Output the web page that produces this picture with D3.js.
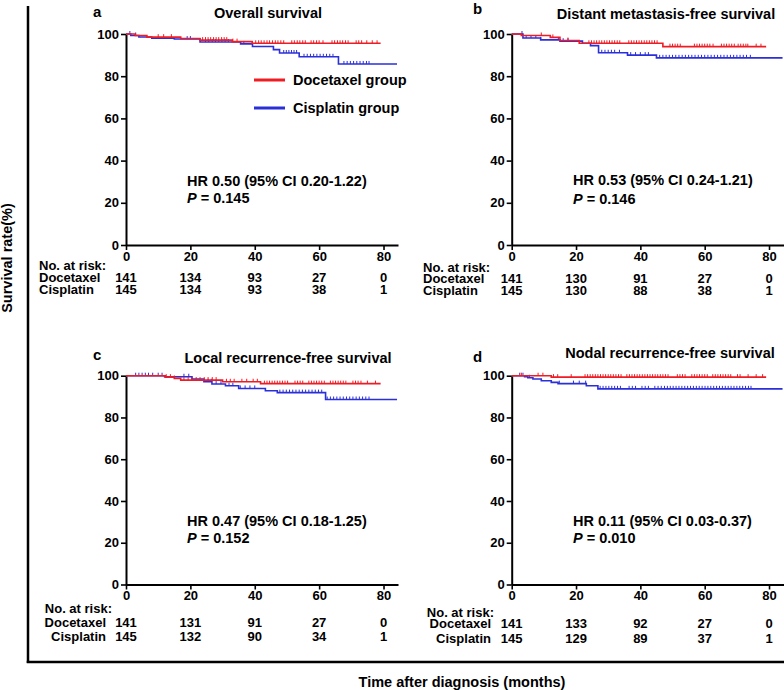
<!DOCTYPE html>
<html>
<head>
<meta charset="utf-8">
<script src="https://cdn.jsdelivr.net/npm/d3@7"></script>
<style>
  html, body { margin: 0; padding: 0; background: #fff; }
  svg text { font-family: "Liberation Sans", Arial, sans-serif; font-weight: bold; fill: #000; }
</style>
</head>
<body>
<svg id="chart" width="784" height="690"></svg>
<script>
// ---------------- data ----------------
const timeTicks = [0, 20, 40, 60, 80];
const rateTicks = [0, 20, 40, 60, 80, 100];
const panelLetters = ["a", "b", "c", "d"];
const panelTitles = ["Overall survival", "Distant metastasis-free survival",
  "Local recurrence-free survival", "Nodal recurrence-free survival"];
const hrLabels = ["HR 0.50 (95% CI 0.20-1.22)", "HR 0.53 (95% CI 0.24-1.21)",
  "HR 0.47 (95% CI 0.18-1.25)", "HR 0.11 (95% CI 0.03-0.37)"];
const pValues = ["0.145", "0.146", "0.152", "0.010"];
const groupNames = ["Docetaxel", "Cisplatin"];
const legendLabels = ["Docetaxel group", "Cisplatin group"];
const riskDocetaxel = [[141, 134, 93, 27, 0], [141, 130, 91, 27, 0], [141, 131, 91, 27, 0], [141, 133, 92, 27, 0]];
const riskCisplatin = [[145, 134, 93, 38, 1], [145, 130, 88, 38, 1], [145, 132, 90, 34, 1], [145, 129, 89, 37, 1]];

// Kaplan-Meier steps: [month, survival %]
const osDoceSteps = [[0, 100], [2.9, 99.3], [6.5, 98.5], [17, 97.9], [23, 97.1], [33, 96.4], [39.2, 95.6]];
const osDoceEnd = 79.1;
const osCisSteps = [[0, 100], [1.5, 99.3], [4, 98.6], [8, 98.0], [15, 97.6], [23, 96.2], [35.6, 95.3], [39.3, 94.1], [45.8, 92.6], [47.7, 91.0], [53.8, 89.2], [66, 85.8]];
const osCisEnd = 84.2;
const dmDoceSteps = [[0, 100], [3, 99.3], [12, 98.4], [15, 96.9], [21, 95.6], [47, 94.0]];
const dmDoceEnd = 79.1;
const dmCisSteps = [[0, 100], [3.5, 98.1], [9, 97.2], [15, 96.6], [22, 95.6], [24.5, 94.5], [27, 91.1], [36, 90.0], [45, 88.7]];
const dmCisEnd = 84.2;
const lrDoceSteps = [[0, 100], [12.2, 99.3], [15, 98.7], [17, 97.9], [30, 97.1], [41.8, 96.2]];
const lrDoceEnd = 79.1;
const lrCisSteps = [[0, 100], [12, 99.5], [20.5, 98.4], [24.2, 97.1], [26.7, 96.0], [30.9, 95.2], [35, 93.9], [43.3, 92.8], [47, 91.9], [62, 88.6]];
const lrCisEnd = 84.2;
const nrDoceSteps = [[0, 100], [12.3, 99.3]];
const nrDoceEnd = 79.1;
const nrCisSteps = [[0, 100], [4, 99.5], [5, 99.0], [6.6, 98.4], [9.2, 97.6], [12.3, 96.8], [14.4, 96.2], [23.2, 95.2], [26.8, 93.7]];
const nrCisEnd = 84.2;

// censored observation times (months)
const osDoceCensor = [10, 11.7, 14.1, 23.8, 24.7, 25.5, 26.3, 27.2, 28, 28.8, 29.7, 30.5, 31.3, 33.2, 34.5, 40.3, 41.2, 42, 42.9, 43.8, 44.6, 45.5, 46.4, 47.2, 48.1, 49, 51.5, 52.3, 53.2, 54, 54.9, 55.7, 57.5, 58.3, 59.2, 60, 61.2, 64, 64.8, 65.7, 66.5, 67.3, 68.2, 69, 71.5, 72.3, 73.2, 74.8, 76.5, 78];
const osCisCensor = [1.2, 3, 19, 20, 24.7, 25.7, 26.8, 27.8, 28.8, 29.8, 30.8, 31.8, 36.6, 49, 49.8, 50.6, 51.4, 52.2, 53, 55.3, 56.3, 57.3, 58.3, 59.3, 60.3, 61.3, 62.3, 63.3, 64.3, 67.7, 68.7, 69.7, 70.7, 71.7, 72.7, 73.7, 74.7, 75.5];
const dmDoceCensor = [9.2, 12.8, 17.5, 24, 24.8, 25.6, 26.4, 27.2, 28, 28.8, 29.6, 30.4, 31.2, 32, 32.8, 33.6, 36.4, 37.2, 38, 38.8, 39.6, 40.4, 41.2, 42, 42.8, 43.6, 44.4, 45.2, 49.2, 50, 50.8, 51.6, 52.4, 56.8, 57.6, 58.4, 59.2, 60, 60.8, 61.6, 62.6, 65.2, 66, 66.8, 67.6, 68.4, 69.2, 70.4, 71.2, 72, 72.8, 73.4, 76, 77.5];
const dmCisCensor = [3.2, 4.5, 6, 7.5, 9, 14.5, 16, 17.5, 28, 29, 30, 31, 32, 33.5, 37, 38.5, 40, 41.5, 42.5, 46, 47, 48, 49, 50, 51, 52, 53, 54, 55, 56, 57, 58, 59, 60, 61, 62, 63, 64, 65, 66, 67, 68, 69, 70, 71, 72, 73, 74.2];
const lrDoceCensor = [12.5, 13.8, 15, 18, 19.3, 20.5, 21.8, 23, 24.3, 25.5, 26.8, 28, 31.2, 32.4, 33.6, 36, 37.5, 39.5, 40.8, 43, 43.8, 44.6, 45.4, 46.2, 47, 47.8, 48.6, 49.4, 50.2, 52.5, 53.3, 54.1, 54.9, 56.8, 57.6, 58.4, 59.2, 60, 60.8, 61.6, 63.5, 64.3, 65.1, 65.9, 66.7, 67.5, 68.3, 70.5, 71.3, 72.1, 73, 75, 77.5];
const lrCisCensor = [3, 4, 5, 6, 7, 8.3, 10, 11.2, 18, 19.5, 25.5, 26.5, 28, 29.5, 32, 33.2, 35.5, 37, 38.5, 40, 47.8, 48.8, 49.8, 50.8, 51.8, 52.8, 53.8, 54.8, 55.8, 56.8, 57.8, 58.8, 59.8, 60.8, 62.5, 63.5, 64.5, 65.5, 66.5, 67.5, 68.5, 69.5, 70.5, 71.5, 72.5, 73.5, 74.5, 75.5];
const nrDoceCensor = [3, 8.2, 9.7, 13, 14.3, 18.5, 22.8, 23.6, 24.4, 25.2, 26, 26.8, 27.6, 28.4, 29.2, 30, 30.8, 31.6, 32.4, 33.2, 34, 35.8, 36.6, 37.4, 38.2, 39, 39.8, 40.6, 41.4, 42.2, 43, 43.8, 44.6, 45.4, 46.2, 47, 47.8, 48.6, 51.5, 52.3, 53.1, 53.9, 56, 56.8, 57.6, 58.4, 59.2, 60, 60.8, 62.5, 63.3, 64.1, 64.9, 65.7, 66.5, 67.3, 68.1, 70.2, 71, 73.5, 76, 78];
const nrCisCensor = [2.5, 3.5, 5.5, 14.8, 19.2, 21, 23, 27.5, 28.4, 29.3, 30.2, 31.1, 32, 32.9, 33.8, 36.5, 37.5, 38.5, 40.5, 41.5, 42.5, 44.5, 45.5, 46.5, 47.5, 48.4, 49.3, 50.2, 51.1, 52, 52.9, 53.8, 54.7, 55.6, 56.5, 57.4, 58.3, 59.2, 60.1, 61, 61.9, 62.8, 63.7, 64.6, 65.5, 66.4, 67.3, 68.2, 69.1, 70, 70.9, 71.8, 72.7, 73.6, 74.4];

// ---------------- layout ----------------
const RED = "#ee1c24", BLUE = "#2b2fd8";
const svg = d3.select("#chart");

const panels = [
  { xl: 126, xr: 398, yb: 245, yt: 34, doce: [osDoceSteps, osDoceEnd, osDoceCensor], cis: [osCisSteps, osCisEnd, osCisCensor],
    letter: [93, 17], title: [268, 18], hr: [187, 186, 203],
    risk: { anchor: "start", x: 39, xLab: 39, nar: 270, d: 281.5, c: 294, tick: 260 }, legend: true },
  { xl: 511.7, xr: 783.5, yb: 245, yt: 34, doce: [dmDoceSteps, dmDoceEnd, dmDoceCensor], cis: [dmCisSteps, dmCisEnd, dmCisCensor],
    letter: [473, 14], title: [666, 18.5], hr: [573, 185, 203.5],
    risk: { anchor: "start", x: 423, xLab: 423, nar: 271.5, d: 283, c: 295, tick: 260 } },
  { xl: 126, xr: 398, yb: 584.5, yt: 375.7, doce: [lrDoceSteps, lrDoceEnd, lrDoceCensor], cis: [lrCisSteps, lrCisEnd, lrCisCensor],
    letter: [93, 360], title: [288, 363], hr: [187, 526, 543],
    risk: { anchor: "end", x: 106, xLab: 112, nar: 613.3, d: 626.7, c: 641, tick: 605 } },
  { xl: 511.7, xr: 783.5, yb: 584.5, yt: 375.7, doce: [nrDoceSteps, nrDoceEnd, nrDoceCensor], cis: [nrCisSteps, nrCisEnd, nrCisCensor],
    letter: [473, 362], title: [670, 358], hr: [573, 526, 543],
    risk: { anchor: "end", x: 491, xLab: 494, nar: 616.7, d: 628, c: 642.7, tick: 605 } }
];

// outer frame
svg.append("line").attr("x1", 28).attr("x2", 28).attr("y1", 6).attr("y2", 663)
  .attr("stroke", "#000").attr("stroke-width", 2.5);
svg.append("line").attr("x1", 26.75).attr("x2", 784).attr("y1", 662).attr("y2", 662)
  .attr("stroke", "#000").attr("stroke-width", 2.5);

svg.append("text").attr("transform", "translate(12,258) rotate(-90)")
  .attr("text-anchor", "middle").style("font-size", "14.5px").text("Survival rate(%)");
svg.append("text").attr("x", 462).attr("y", 687).attr("text-anchor", "middle")
  .style("font-size", "14.5px").text("Time after diagnosis (months)");

function survAt(steps, t) {
  let s = steps[0][1];
  for (const st of steps) { if (st[0] <= t) s = st[1]; }
  return s;
}

panels.forEach((p, i) => {
  const x = d3.scaleLinear().domain([0, 84.5]).range([p.xl, p.xr]);
  const y = d3.scaleLinear().domain([0, 100]).range([p.yb, p.yt]);
  const g = svg.append("g");

  // axes
  const ya = g.append("g").attr("transform", `translate(${p.xl},0)`)
    .call(d3.axisLeft(y).tickValues(rateTicks).tickSize(5).tickSizeOuter(0).tickPadding(2));
  const xa = g.append("g").attr("transform", `translate(0,${p.yb})`)
    .call(d3.axisBottom(x).tickValues(timeTicks).tickSize(5).tickSizeOuter(0).tickPadding(1.5));
  [ya, xa].forEach(a => {
    a.select(".domain").attr("stroke-width", 2);
    a.selectAll(".tick line").attr("stroke-width", 1.6);
    a.selectAll(".tick text").style("font-size", "13px").style("font-family", "Liberation Sans, Arial, sans-serif").style("font-weight", "bold");
  });

  // curves
  const line = d3.line().x(d => x(d[0])).y(d => y(d[1])).curve(d3.curveStepAfter);
  [[p.cis, BLUE], [p.doce, RED]].forEach(([arm, col]) => {
    const [steps, end, cens] = arm;
    const pts = steps.concat([[end, steps[steps.length - 1][1]]]);
    g.append("path").datum(pts).attr("d", line).attr("fill", "none")
      .attr("stroke", col).attr("stroke-width", 1.6);
    g.selectAll(null).data(cens).enter().append("line")
      .attr("x1", d => x(d)).attr("x2", d => x(d))
      .attr("y1", d => y(survAt(steps, d)) - 3).attr("y2", d => y(survAt(steps, d)))
      .attr("stroke", col).attr("stroke-width", 1);
  });

  // labels
  g.append("text").attr("x", p.letter[0]).attr("y", p.letter[1]).style("font-size", "15px").text(panelLetters[i]);
  g.append("text").attr("x", p.title[0]).attr("y", p.title[1]).attr("text-anchor", "middle")
    .style("font-size", "14.5px").text(panelTitles[i]);
  g.append("text").attr("x", p.hr[0]).attr("y", p.hr[1]).style("font-size", "14.5px").text(hrLabels[i]);
  const pt = g.append("text").attr("x", p.hr[0]).attr("y", p.hr[2]).style("font-size", "14.5px");
  pt.append("tspan").style("font-style", "italic").text("P");
  pt.append("tspan").text(" = " + pValues[i]);

  // risk table
  const r = p.risk;
  g.append("text").attr("x", r.xLab).attr("y", r.nar).attr("text-anchor", r.anchor)
    .style("font-size", "13px").text("No. at risk:");
  g.append("text").attr("x", r.x).attr("y", r.d).attr("text-anchor", r.anchor)
    .style("font-size", "13px").text(groupNames[0]);
  g.append("text").attr("x", r.x).attr("y", r.c).attr("text-anchor", r.anchor)
    .style("font-size", "13px").text(groupNames[1]);
  g.selectAll(null).data(riskDocetaxel[i]).enter().append("text")
    .attr("x", (d, k) => x(timeTicks[k])).attr("y", r.d).attr("text-anchor", "middle")
    .style("font-size", "13px").text(d => d);
  g.selectAll(null).data(riskCisplatin[i]).enter().append("text")
    .attr("x", (d, k) => x(timeTicks[k])).attr("y", r.c).attr("text-anchor", "middle")
    .style("font-size", "13px").text(d => d);

  if (p.legend) {
    [[RED, 80], [BLUE, 108]].forEach(([col, ly], k) => {
      g.append("line").attr("x1", 254).attr("x2", 285).attr("y1", ly).attr("y2", ly)
        .attr("stroke", col).attr("stroke-width", 3);
      g.append("text").attr("x", 293).attr("y", ly + 5).style("font-size", "14.5px").text(legendLabels[k]);
    });
  }
});
</script>
</body>
</html>
